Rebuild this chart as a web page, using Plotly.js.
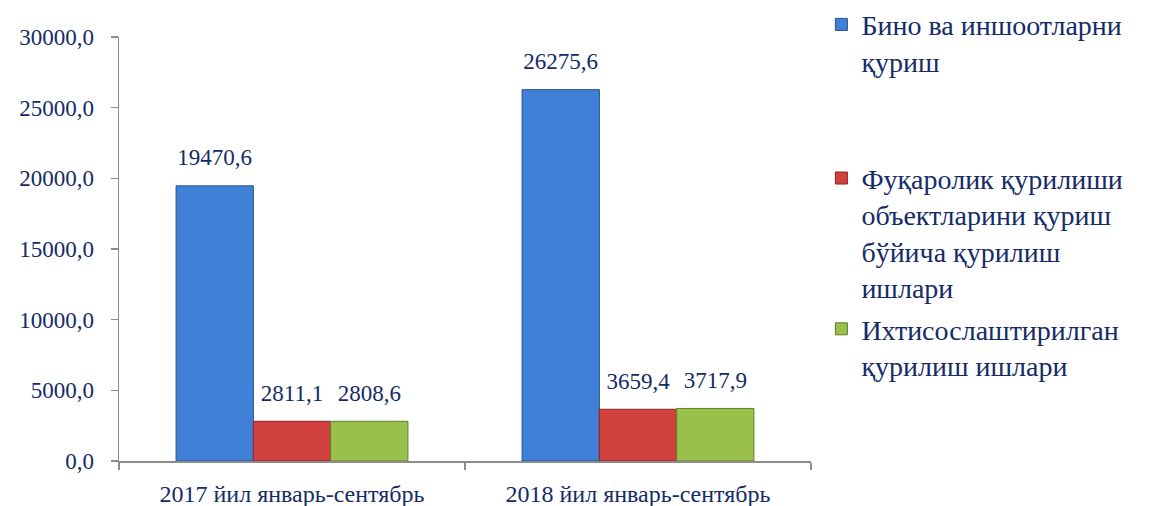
<!DOCTYPE html>
<html>
<head>
<meta charset="utf-8">
<script src="https://cdn.plot.ly/plotly-3.0.1.min.js"></script>
<style>html,body{margin:0;padding:0;background:#fff;}#chart{width:1164px;height:506px;}</style>
</head>
<body>
<div id="chart"></div>
<script>
const categories = ["2017 йил январь-сентябрь", "2018 йил январь-сентябрь"];
const seriesNames = [
  "Бино ва иншоотларни<br>қуриш",
  "Фуқаролик қурилиши<br>объектларини қуриш<br>бўйича қурилиш<br>ишлари",
  "Ихтисослаштирилган<br>қурилиш ишлари"
];
const buildings = [19470.6, 26275.6];
const civil = [2811.1, 3659.4];
const specialized = [2808.6, 3717.9];
const yTicks = [0, 5000, 10000, 15000, 20000, 25000, 30000];

const FONT = 'Liberation Serif, Times New Roman, serif';
const TXT = '#142B68';
const colors = ['#4080D6', '#D0403C', '#98C04A'];
const edges = ['#24508F', '#8E2422', '#5F7F25'];
const values = [buildings, civil, specialized];
const legends = ['legend', 'legend2', 'legend3'];

const barTraces = values.map((v, i) => ({
  type: 'bar',
  x: categories,
  y: v,
  name: seriesNames[i],
  legend: legends[i],
  marker: {color: colors[i], line: {color: edges[i], width: 1}},
  hoverinfo: 'skip'
}));

const labelTraces = values.map((v, i) => ({
  type: 'scatter',
  mode: 'markers+text',
  x: categories,
  y: v,
  showlegend: false,
  marker: {size: 22, color: 'rgba(0,0,0,0)'},
  texttemplate: '%{y:.1f}',
  textposition: 'top center',
  cliponaxis: false,
  textfont: {family: FONT, size: 23, color: TXT},
  hoverinfo: 'skip'
}));

const legendBase = {
  xanchor: 'left', yanchor: 'top', x: 1.015,
  font: {family: FONT, size: 28, color: TXT},
  valign: 'top', bgcolor: 'rgba(0,0,0,0)', itemwidth: 30
};

const layout = {
  width: 1164, height: 506,
  margin: {l: 119, r: 353, t: 37, b: 45, autoexpand: false},
  paper_bgcolor: '#fff', plot_bgcolor: '#fff',
  separators: ', ',
  barmode: 'group',
  bargap: 0.33,
  bargroupgap: 0,
  scattermode: 'group',
  scattergap: 0.33,
  font: {family: FONT, color: TXT},
  xaxis: {
    type: 'category',
    showline: true, linecolor: '#8C8C8C', linewidth: 1.5,
    ticks: 'outside', tickson: 'boundaries', ticklen: 7, tickcolor: '#8C8C8C', tickwidth: 1.5,
    ticklabelstandoff: 11,
    tickfont: {family: FONT, size: 24, color: TXT},
    showgrid: false, zeroline: false, fixedrange: true
  },
  yaxis: {
    range: [0, 30000],
    tickvals: yTicks,
    tickformat: '.1f',
    showline: true, linecolor: '#8C8C8C', linewidth: 1.5,
    ticks: 'outside', ticklen: 7, tickcolor: '#8C8C8C', tickwidth: 1.5,
    ticklabelstandoff: 12,
    tickfont: {family: FONT, size: 23, color: TXT},
    showgrid: false, zeroline: false, fixedrange: true
  },
  legend: Object.assign({}, legendBase, {y: 1.088}),
  legend2: Object.assign({}, legendBase, {y: 0.7256}),
  legend3: Object.assign({}, legendBase, {y: 0.370}),
  showlegend: true
};

Plotly.newPlot('chart', barTraces.concat(labelTraces), layout, {staticPlot: true, displayModeBar: false});
</script>
</body>
</html>
